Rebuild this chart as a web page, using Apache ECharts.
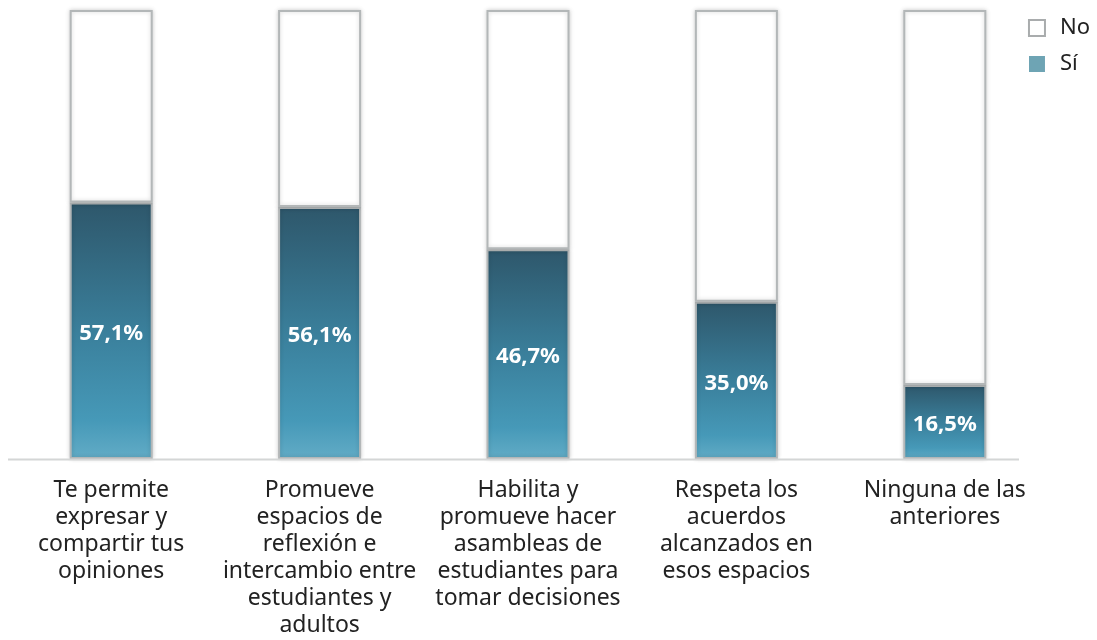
<!DOCTYPE html>
<html>
<head>
<meta charset="utf-8">
<script src="https://cdn.jsdelivr.net/npm/echarts@6/dist/echarts.min.js"></script>
<style>
  html, body { margin: 0; padding: 0; background: #ffffff; }
  #chart { width: 1097px; height: 640px; }
</style>
</head>
<body>
<div id="chart"></div>
<script>
// Categories (wrapped as they appear under each bar)
const categories = [
  'Te permite\nexpresar y\ncompartir tus\nopiniones',
  'Promueve\nespacios de\nreflexión e\nintercambio entre\nestudiantes y\nadultos',
  'Habilita y\npromueve hacer\nasambleas de\nestudiantes para\ntomar decisiones',
  'Respeta los\nacuerdos\nalcanzados en\nesos espacios',
  'Ninguna de las\nanteriores'
];
// Share of answers, in percent
const siValues = [57.1, 56.1, 46.7, 35.0, 16.5];
const noValues = [42.9, 43.9, 53.3, 65.0, 83.5];

const chart = echarts.init(document.getElementById('chart'), null, { renderer: 'canvas' });

const FONT = '"Noto Sans", "Open Sans", sans-serif';

const siFill = new echarts.graphic.LinearGradient(0, 0, 0, 1, [
  { offset: 0, color: '#2e576b' },
  { offset: 0.5, color: '#3a7f9b' },
  { offset: 0.85, color: '#4699b8' },
  { offset: 1, color: '#62acc6' }
]);

const fmt = v => v.toFixed(1).replace('.', ',') + '%';

chart.setOption({
  animation: false,
  backgroundColor: '#ffffff',
  grid: { left: 7, right: 48, top: 10, bottom: 181, containLabel: false, outerBoundsMode: 'none' },
  legend: {
    orient: 'vertical',
    right: 2,
    top: 12,
    itemWidth: 16,
    itemHeight: 16,
    itemGap: 14,
    textStyle: { fontFamily: FONT, fontSize: 22, color: '#222', padding: [0, 0, 0, 10] },
    data: [
      { name: 'No', icon: 'rect', itemStyle: { color: '#ffffff', borderColor: '#a9acad', borderWidth: 2 } },
      { name: 'Sí', icon: 'rect', itemStyle: { color: '#6ea4b4', borderWidth: 0 } }
    ]
  },
  xAxis: {
    type: 'category',
    data: categories,
    axisLine: { show: false },
    axisTick: { show: false },
    axisLabel: {
      interval: 0,
      margin: 18,
      fontFamily: FONT,
      fontSize: 23,
      lineHeight: 27,
      color: '#222',
      align: 'center'
    }
  },
  yAxis: {
    type: 'value',
    min: 0,
    max: 100,
    show: false
  },
  graphic: [
    {
      type: 'line',
      shape: { x1: 8, y1: 459.5, x2: 1019, y2: 459.5 },
      style: { stroke: '#d4d6d6', lineWidth: 2 },
      z: 10
    }
  ],
  series: [
    {
      name: 'Sí',
      type: 'bar',
      stack: 'total',
      barWidth: 83,
      data: siValues,
      itemStyle: {
        color: siFill,
        borderColor: '#b3b7b8',
        borderWidth: 2,
        shadowBlur: 4,
        shadowColor: 'rgba(0,0,0,0.18)'
      },
      label: {
        show: true,
        position: 'inside',
        offset: [0, 3],
        formatter: p => fmt(p.value),
        fontFamily: FONT,
        fontWeight: 'bold',
        fontSize: 22,
        color: '#ffffff'
      }
    },
    {
      name: 'No',
      type: 'bar',
      stack: 'total',
      barWidth: 83,
      data: noValues,
      itemStyle: {
        color: '#ffffff',
        borderColor: '#b3b7b8',
        borderWidth: 2,
        shadowBlur: 4,
        shadowColor: 'rgba(0,0,0,0.18)'
      }
    }
  ]
});
</script>
</body>
</html>
